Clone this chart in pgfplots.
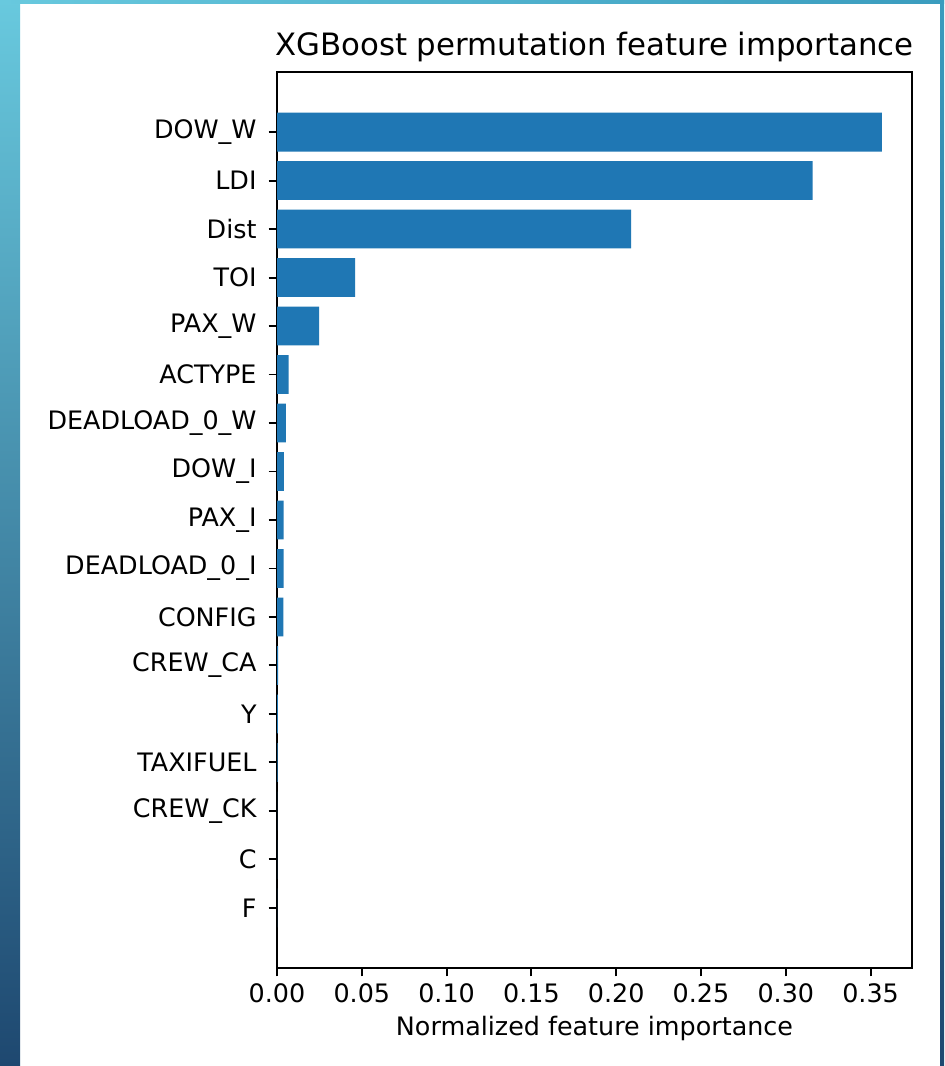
\documentclass[border=0pt]{standalone}
\usepackage{pgfplots}
\pgfplotsset{compat=1.18}
\usepackage{fontspec}
\setmainfont{DejaVu Sans}
\definecolor{tabblue}{HTML}{1F77B4}
\definecolor{frtop}{HTML}{68C9DE}
\definecolor{frmid}{HTML}{5CBAD2}
\definecolor{frbot}{HTML}{1E4870}
\definecolor{frright}{HTML}{3A9CBE}
\begin{document}
\begin{tikzpicture}[x=0.5pt,y=0.5pt]
% page frame (screenshot border)
\fill[white] (0,0) rectangle (944,1066);
\shade[top color=frtop, middle color=frmid, bottom color=frbot] (0,0) rectangle (20,1066);
\shade[left color=frtop, right color=frright] (0,1062) rectangle (944,1066);
\shade[top color=frright, bottom color=frbot] (940,0) rectangle (944,1066);
\coordinate (AX) at (277,98);
\begin{axis}[
  at={(AX)}, anchor=south west,
  scale only axis,
  width=317.5pt, height=448pt,
  xbar, bar width=0.8,
  xmin=0, xmax=0.3744,
  ymin=-1.24, ymax=17.24,
  xtick={0,0.05,...,0.35},
  ytick={0,...,16},
  yticklabels={F,C,CREW\_CK,TAXIFUEL,Y,CREW\_CA,CONFIG,DEADLOAD\_0\_I,PAX\_I,DOW\_I,DEADLOAD\_0\_W,ACTYPE,PAX\_W,TOI,Dist,LDI,DOW\_W},
  xtick pos=bottom, ytick pos=left,
  tick align=outside,
  major tick length=4.2pt,
  every tick/.style={black, line width=0.95pt},
  axis line style={black, line width=0.95pt},
  tick label style={font=\fontsize{12.7}{15}\selectfont},
  /pgf/number format/.cd, fixed, fixed zerofill, precision=2, assume math mode=true,
  /pgfplots/.cd,
  xticklabel style={yshift=0pt},
  yticklabel style={xshift=-2.5pt},
  xlabel={Normalized feature importance},
  xlabel style={font=\fontsize{12.7}{15}\selectfont, yshift=0pt},
  title={XGBoost permutation feature importance},
  title style={font=\fontsize{15.4}{18}\selectfont, yshift=-4.5pt},
]
\addplot[fill=tabblue, draw=none] coordinates {
  (0.3566,16) (0.3158,15) (0.2088,14) (0.0460,13) (0.0248,12)
  (0.0069,11) (0.0053,10) (0.0040,9) (0.0039,8) (0.0039,7)
  (0.0038,6) (0.0006,5) (0.0005,4) (0.0004,3) (0.0001,2)
  (0.0,1) (0.0,0)
};
\end{axis}
\pgfresetboundingbox
\path[use as bounding box] (0,0) rectangle (944,1066);
\end{tikzpicture}
\end{document}
